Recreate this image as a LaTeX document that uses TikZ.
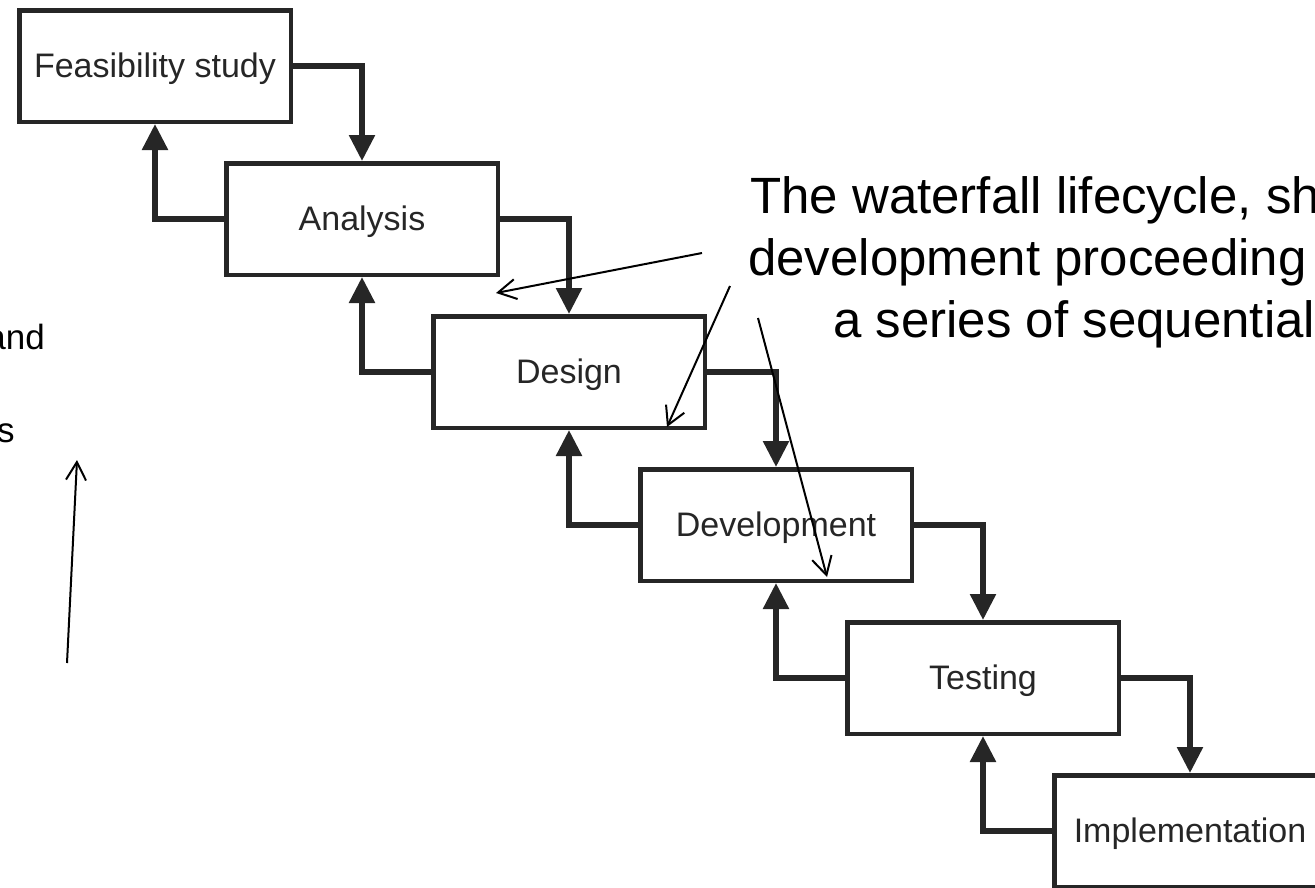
\documentclass[tikz,border=0pt]{standalone}
\usepackage{fontspec}
\setmainfont{Liberation Sans}
\usetikzlibrary{positioning,arrows.meta}

\begin{document}
\begin{tikzpicture}[x = 1pt, y = 1pt, node distance = 153pt, line width = 4.5pt]
\tikzstyle{phase}=[
  draw = black!85,
  fill = white,
  text = black!85,
  minimum width = 271.5pt,
  minimum height = 111.5pt,
  text depth = 2pt,
  font = \fontsize{34}{40}\selectfont
]
\tikzstyle{flow}=[draw = black!85, line width = 5.5pt, -{Triangle[length = 26pt, width = 25pt]}]
\tikzstyle{pointer}=[draw = black, line width = 2pt, -{Straight Barb[length = 18pt, width = 20pt]}]
\tikzstyle{note}=[font = \fontsize{51}{62}\selectfont, inner sep = 0pt, anchor = base west]
\tikzstyle{side}=[font = \fontsize{35}{42}\selectfont, inner sep = 0pt, anchor = base east]

\useasboundingbox (0,0) rectangle (1315,-887);

\node[phase] (F) at (155,-66) {Feasibility study};
\node[phase] (A) [below of = F, xshift = 207pt] {Analysis};
\node[phase] (D) [below of = A, xshift = 207pt] {Design};
\node[phase] (V) [below of = D, xshift = 207pt] {Development};
\node[phase] (T) [below of = V, xshift = 207pt] {Testing};
\node[phase] (I) [below of = T, xshift = 207pt] {Implementation};

\draw[flow] (F.east) -| (A.north);
\draw[flow] (A.east) -| (D.north);
\draw[flow] (D.east) -| (V.north);
\draw[flow] (V.east) -| (T.north);
\draw[flow] (T.east) -| (I.north);
\draw[flow] (A.west) -| (F.south);
\draw[flow] (D.west) -| (A.south);
\draw[flow] (V.west) -| (D.south);
\draw[flow] (T.west) -| (V.south);
\draw[flow] (I.west) -| (T.south);

\node[note] (note1) at (748,-213) {The waterfall lifecycle, sh};
\node[note] (note2) at (746,-275) {development proceeding};
\node[note] (note3) at (831,-337) {a series of sequential};

\node[side] (side1) at (47,-349) {and};
\node[side] (side2) at (17,-442) {s};

\coordinate (p1) at (702,-253);
\coordinate (t1) at (496,-293);
\coordinate (p2) at (730,-286);
\coordinate (t2) at (667,-427);
\coordinate (p3) at (758,-318);
\coordinate (t3) at (827,-577);
\coordinate (p4) at (67,-663);
\coordinate (t4) at (77,-460);

\draw[pointer] (p1) -- (t1);
\draw[pointer] (p2) -- (t2);
\draw[pointer] (p3) -- (t3);
\draw[pointer] (p4) -- (t4);
\end{tikzpicture}
\end{document}
